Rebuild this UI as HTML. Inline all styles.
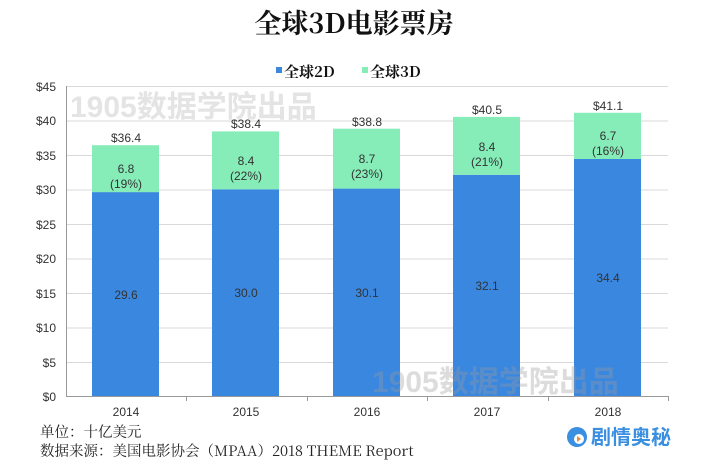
<!DOCTYPE html>
<html><head><meta charset="utf-8"><style>
body{margin:0;background:#fff;width:709px;height:465px;overflow:hidden;position:relative;font-family:"Liberation Sans","Noto Sans CJK SC",sans-serif}
</style></head><body>
<svg width="709" height="465" style="position:absolute;left:0;top:0" font-family="Liberation Sans, Noto Sans CJK SC, sans-serif">
<text x="354" y="33" text-anchor="middle" font-family="Noto Serif CJK SC, serif" font-weight="bold" font-size="27" fill="#111">全球3D电影票房</text>
<rect x="276" y="67" width="6" height="6" fill="#3a87dc"/>
<text x="284" y="77" font-family="Noto Serif CJK SC, serif" font-weight="bold" font-size="15" fill="#111">全球2D</text>
<rect x="362" y="67" width="6" height="6" fill="#86ecb8"/>
<text x="370" y="77" font-family="Noto Serif CJK SC, serif" font-weight="bold" font-size="15" fill="#111">全球3D</text>
<g stroke="#d9d9d9" stroke-width="1">
<line x1="66" y1="86.5" x2="668" y2="86.5"/><line x1="66" y1="121" x2="668" y2="121"/><line x1="66" y1="155.5" x2="668" y2="155.5"/><line x1="66" y1="190" x2="668" y2="190"/><line x1="66" y1="224.5" x2="668" y2="224.5"/><line x1="66" y1="259" x2="668" y2="259"/><line x1="66" y1="293.5" x2="668" y2="293.5"/><line x1="66" y1="328" x2="668" y2="328"/><line x1="66" y1="362.5" x2="668" y2="362.5"/>
</g>
<g font-size="12" fill="#333" text-anchor="end">
<text x="56" y="91">$45</text><text x="56" y="125">$40</text><text x="56" y="160">$35</text><text x="56" y="194">$30</text><text x="56" y="229">$25</text><text x="56" y="263">$20</text><text x="56" y="298">$15</text><text x="56" y="332">$10</text><text x="56" y="367">$5</text><text x="56" y="401">$0</text>
</g>
<text x="70" y="117" font-size="30" font-weight="bold" fill="#e4e4e4">1905数据学院出品</text>
<g id="bars">
<rect x="92" y="192.1" width="67" height="204" fill="#3a87e0"/><rect x="92" y="145.2" width="67" height="46.9" fill="#86ecb8"/>
<rect x="212" y="189.3" width="67" height="206.7" fill="#3a87e0"/><rect x="212" y="131.4" width="67" height="57.9" fill="#86ecb8"/>
<rect x="333" y="188.6" width="67" height="207.4" fill="#3a87e0"/><rect x="333" y="128.7" width="67" height="59.9" fill="#86ecb8"/>
<rect x="453" y="174.8" width="67" height="221.2" fill="#3a87e0"/><rect x="453" y="116.9" width="67" height="57.9" fill="#86ecb8"/>
<rect x="574" y="159" width="67" height="237" fill="#3a87e0"/><rect x="574" y="112.8" width="67" height="46.2" fill="#86ecb8"/>
</g>
<text x="372" y="392" font-size="30" font-weight="bold" fill="#9a9a9a" fill-opacity="0.35">1905数据学院出品</text>
<line x1="66" y1="396.5" x2="668" y2="396.5" stroke="#999"/>
<line x1="66.5" y1="86" x2="66.5" y2="397" stroke="#999"/>
<g stroke="#999"><line x1="186.5" y1="396" x2="186.5" y2="401"/><line x1="307.5" y1="396" x2="307.5" y2="401"/><line x1="427.5" y1="396" x2="427.5" y2="401"/><line x1="548.5" y1="396" x2="548.5" y2="401"/><line x1="668.5" y1="396" x2="668.5" y2="401"/></g>
<g font-size="12" fill="#333" text-anchor="middle">
<text x="126" y="416">2014</text><text x="246" y="416">2015</text><text x="367" y="416">2016</text><text x="487" y="416">2017</text><text x="608" y="416">2018</text>
<text x="126" y="142">$36.4</text><text x="246" y="128">$38.4</text><text x="367" y="126">$38.8</text><text x="487" y="114">$40.5</text><text x="608" y="110">$41.1</text>
<text x="126" y="173">6.8</text><text x="126" y="188">(19%)</text>
<text x="246" y="165">8.4</text><text x="246" y="180">(22%)</text>
<text x="367" y="163">8.7</text><text x="367" y="178">(23%)</text>
<text x="487" y="151">8.4</text><text x="487" y="166">(21%)</text>
<text x="608" y="140">6.7</text><text x="608" y="155">(16%)</text>
<text x="126" y="299">29.6</text><text x="246" y="297">30.0</text><text x="367" y="297">30.1</text><text x="487" y="290">32.1</text><text x="608" y="282">34.4</text>
</g>
<g font-family="Noto Serif CJK SC, serif" font-size="14.5" fill="#222">
<text x="40" y="437">单位：十亿美元</text>
<text x="40" y="456">数据来源：美国电影协会（MPAA）2018 THEME Report</text>
</g>
<circle cx="577" cy="437" r="10" fill="#3a8fe0"/><circle cx="579" cy="439" r="5" fill="#fff"/><path d="M577 436 l4 3 -4 3z" fill="#f08a30"/>
<text x="591" y="444" font-size="20" font-weight="bold" fill="#3a8fe0">剧情奥秘</text>
</svg>
</body></html>
